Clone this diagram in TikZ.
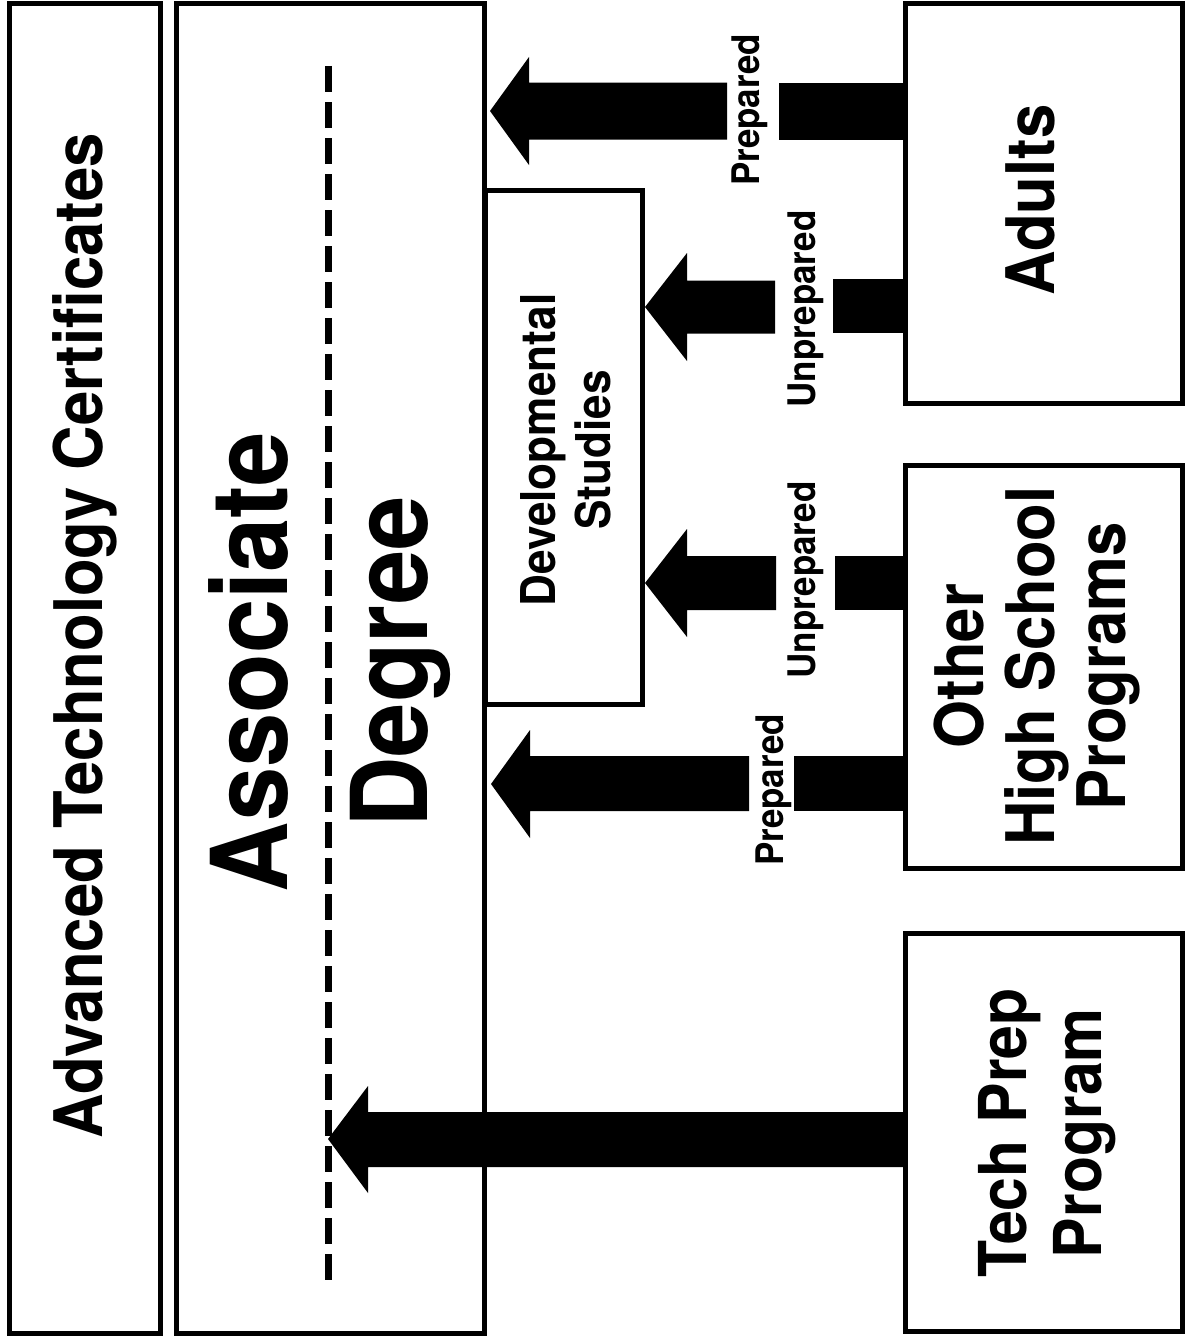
\documentclass[tikz,border=0pt]{standalone}
\usepackage{fontspec}
\setmainfont{TeX Gyre Heros}[FakeStretch=0.92]
\begin{document}
\begin{tikzpicture}[x=1pt,y=-1pt,
  box/.style={draw, line width=5pt, inner sep=0pt, outer sep=0pt},
  txt/.style={rotate=90, inner sep=0pt, align=center},
  lbl/.style={rotate=90, inner sep=0pt, font=\bfseries\fontsize{38}{44}\selectfont},
  blk/.style={fill=black, draw=none}]
\fill[white] (0,0) rectangle (1189,1338);
\useasboundingbox (0,0) rectangle (1189,1338);

% boxes
\node[box, minimum width=151pt, minimum height=1329pt] (cert) at (84.5,668.5) {};
\node[box, minimum width=308pt, minimum height=1329pt] (assoc) at (330,668.5) {};
\node[box, minimum width=157pt, minimum height=514pt] (dev) at (563.5,447) {};
\node[box, minimum width=277pt, minimum height=399pt] (adults) at (1043.5,203.5) {};
\node[box, minimum width=277pt, minimum height=403pt] (other) at (1043.5,666.5) {};
\node[box, minimum width=277pt, minimum height=398pt] (tech) at (1043.5,1132) {};

% texts
\node[txt, font=\bfseries\fontsize{67}{80}\selectfont] (certT) at (85,636) {Advanced Technology Certificates};
\node[txt, font=\bfseries\fontsize{106}{140}\selectfont] (assocT) at (330,662) {Associate\\Degree};
\node[txt, font=\bfseries\fontsize{48}{55}\selectfont] (devT) at (566,450) {Developmental\\Studies};
\node[txt, font=\bfseries\fontsize{67}{75}\selectfont] (adultsT) at (1030,200) {Adults};
\node[txt, font=\bfseries\fontsize{67}{71}\selectfont] (otherT) at (1037,666) {Other\\High School\\Programs};
\node[txt, font=\bfseries\fontsize{66}{75}\selectfont] (techT) at (1047,1133) {Tech Prep\\Program};

% dashed line in associate box
\coordinate (dTop) at (328,66);
\coordinate (dBot) at (328,1290);
\draw[line width=7pt, dash pattern=on 26pt off 10pt] (dTop) -- (dBot);

% arrow 1: Adults prepared -> Associate
\fill[blk] ([xshift=6pt]assoc.east |- 0,111) -- (529,57) -- (529,82.5) -- (727,82.5) -- (727,139.5) -- (529,139.5) -- (529,165) -- cycle;
\fill[blk] (779,82.5) rectangle (adults.west |- 0,139.5);
\node[lbl] (l1) at (750,110) {Prepared};

% arrow 2: Adults unprepared -> Developmental
\fill[blk] ([xshift=3pt]dev.east |- 0,307) -- (687,253) -- (687,280.5) -- (775,280.5) -- (775,333.5) -- (687,333.5) -- (687,361) -- cycle;
\fill[blk] (833,279) rectangle (adults.west |- 0,333);
\node[lbl] (l2) at (806,309) {Unprepared};

% arrow 3: Other HS unprepared -> Developmental
\fill[blk] ([xshift=3pt]dev.east |- 0,583) -- (687,529) -- (687,556) -- (776,556) -- (776,610) -- (687,610) -- (687,637) -- cycle;
\fill[blk] (835,556) rectangle (other.west |- 0,610);
\node[lbl] (l3) at (806,580) {Unprepared};

% arrow 4: Other HS prepared -> Associate
\fill[blk] ([xshift=7pt]assoc.east |- 0,784) -- (530,730) -- (530,756) -- (749,756) -- (749,811) -- (530,811) -- (530,838) -- cycle;
\fill[blk] (794,756) rectangle (other.west |- 0,811);
\node[lbl] (l4) at (774,790) {Prepared};

% arrow 5: Tech Prep -> dashed line
\fill[blk] (dTop |- 0,1139) -- (368,1086) -- (368,1112) -- (tech.west |- 0,1112) -- (tech.west |- 0,1167) -- (368,1167) -- (368,1193) -- cycle;
\end{tikzpicture}
\end{document}
